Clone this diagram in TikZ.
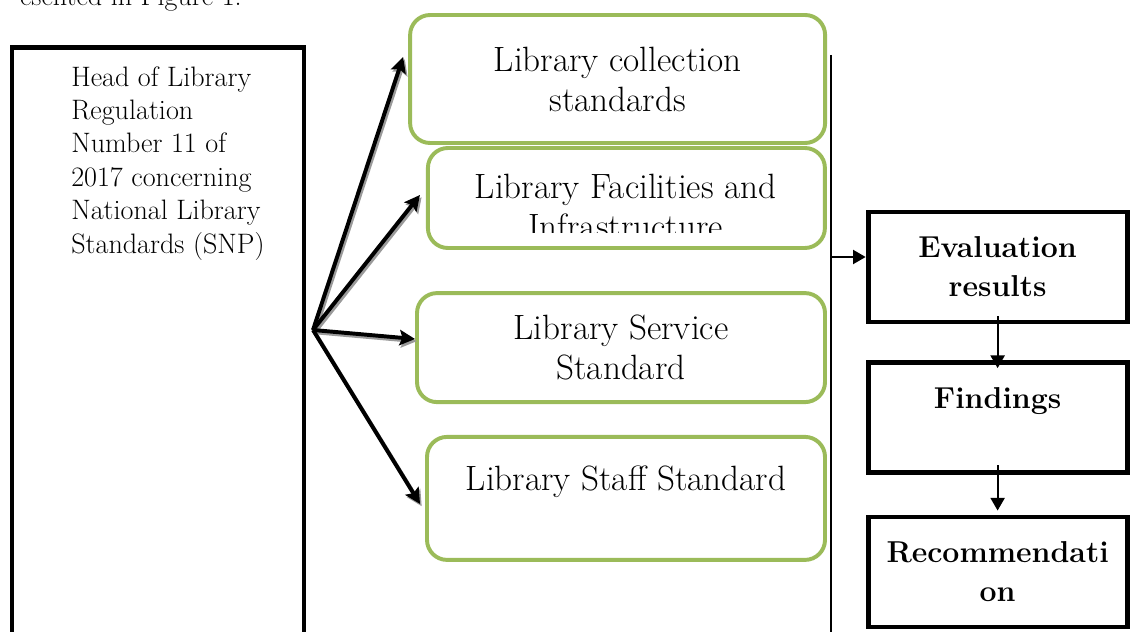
\documentclass[tikz,border=0pt]{standalone}
\usepackage{color}
\usetikzlibrary{arrows.meta}
\definecolor{boxgreen}{HTML}{9BBB59}
\definecolor{shadowgray}{HTML}{9A9A9A}
\tikzstyle{greenbox}=[draw=boxgreen,line width=2.8pt,rounded corners=0.5cm,align=center,font=\fontsize{25}{28.5}\selectfont]
\tikzstyle{blackbox}=[draw,line width=3.5pt,align=center,minimum width=6.475cm,minimum height=2.75cm,font=\fontsize{21.5}{27.7}\selectfont\bfseries]
\tikzstyle{fan}=[line width=2.8pt,-{Stealth[length=11pt,width=11pt,inset=2pt]}]
\tikzstyle{fanshadow}=[fan,draw=shadowgray,fill=shadowgray,transform canvas={xshift=1.2pt,yshift=-1.6pt}]
\tikzstyle{flow}=[line width=1.4pt,-{Triangle[length=9pt,width=10pt]}]

\begin{document}
\begin{tikzpicture}
\useasboundingbox (0,0) rectangle (28.3,-15.8);
\node[anchor=base east,inner sep=0,font=\fontsize{20}{23.8}\selectfont] (caption) at (6.05,-0.13) {esented in Figure 1.};

% regulation box on the left
\node[draw,line width=3.5pt,minimum width=7.3cm,minimum height=15.625cm] (reg) at (3.95,-8.99) {};
\node[anchor=north west,inner sep=0,align=left,font=\fontsize{20}{23.8}\selectfont] (regtext) at (1.775,-1.65)
  {Head of Library\\Regulation\\Number 11 of\\2017 concerning\\National Library\\Standards (SNP)};

% the four standards
\node[greenbox,minimum width=10.375cm,minimum height=3.2cm] (coll) at (15.44,-1.975) {Library collection\\standards};
\node[greenbox,minimum width=9.925cm,minimum height=2.5cm] (fac) at (15.66,-4.95) {};
\begin{scope}
\clip (fac.north west) rectangle (fac.east |- 0,-5.825);
\node[align=center,font=\fontsize{25}{28.5}\selectfont] (factext) at (15.64,-5.15) {Library Facilities and\\Infrastructure};
\end{scope}
\node[greenbox,minimum width=10.2cm,minimum height=2.725cm] (serv) at (15.525,-8.69) {Library Service\\Standard};
\node[greenbox,minimum width=9.95cm,minimum height=3.075cm] (staff) at (15.65,-12.46) {Library Staff Standard\\ \mbox{}};

% fan of arrows
\coordinate (hub) at (7.825,-8.25);
\foreach \b/\dx/\dy in {coll/-0.125/0.55, fac/-0.15/0.075, serv/0/0.215, staff/-0.125/-0.14}
  \draw[fanshadow] (hub) -- ([xshift=\dx cm,yshift=\dy cm]\b.west);
\foreach \b/\dx/\dy in {coll/-0.125/0.55, fac/-0.15/0.075, serv/0/0.215, staff/-0.125/-0.14}
  \draw[fan] (hub) -- ([xshift=\dx cm,yshift=\dy cm]\b.west);

% divider line
\coordinate (vtop) at (20.775,-1.375);
\coordinate (vbot) at (20.775,-16);
\draw[line width=1.4pt] (vtop) -- (vbot);

% results column
\node[blackbox] (eval) at (24.94,-6.675) {Evaluation\\results};
\node[blackbox] (find) at (24.94,-10.44) {Findings\\ \mbox{}};
\node[blackbox] (rec) at (24.94,-14.3) {Recommendati\\on};

\coordinate (evalin) at ([yshift=0.25cm]eval.west);
\draw[flow] (vtop |- evalin) -- (evalin);
\draw[flow] ([yshift=0.2cm]eval.south) -- ([yshift=-0.2cm]find.north);
\draw[flow] ([yshift=0.25cm]find.south) -- ([yshift=0.1cm]rec.north);
\end{tikzpicture}
\end{document}
